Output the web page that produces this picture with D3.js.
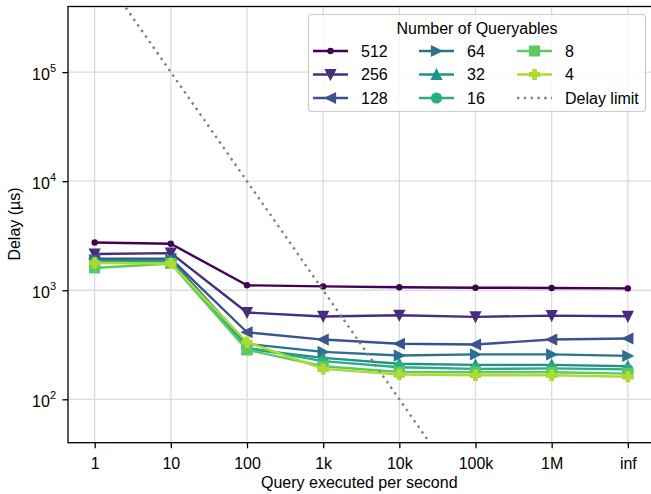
<!DOCTYPE html>
<html>
<head>
<meta charset="utf-8">
<script src="https://cdn.jsdelivr.net/npm/d3@7"></script>
<style>
  body { margin: 0; background: #fff; }
  svg { display: block; font-family: "Liberation Sans", Arial, sans-serif; }
</style>
</head>
<body>
<script>
var rates = ['1', '10', '100', '1k', '10k', '100k', '1M', 'inf'];
var rateValues = [1, 10, 100, 1e3, 1e4, 1e5, 1e6];
var queryables = [512, 256, 128, 64, 32, 16, 8, 4];
var markers = ['.', 'v', '<', '>', '^', 'o', 's', 'P'];

// delay in microseconds, one array per number of queryables
var delay512 = [2740, 2670, 1110, 1085, 1065, 1055, 1050, 1040];
var delay256 = [2150, 2190, 625, 575, 590, 570, 585, 577];
var delay128 = [1950, 1950, 412, 353, 323, 318, 353, 361];
var delay64  = [1900, 1900, 322, 272, 252, 258, 258, 250];
var delay32  = [1850, 1850, 290, 240, 212, 207, 207, 201];
var delay16  = [1800, 1800, 298, 224, 197, 190, 192, 188];
var delay8   = [1600, 1760, 284, 201, 178, 177, 177, 172];
var delay4   = [1780, 1760, 335, 190, 169, 166, 166, 161];
var delays = [delay512, delay256, delay128, delay64, delay32, delay16, delay8, delay4];

var yTicks = [1e2, 1e3, 1e4, 1e5];

(function() {
  var W = 651, H = 494;
  var pLeft = 68, pRight = 654.5, pTop = 6.5, pBottom = 442.7;
  var ms = 9.6; // marker size
  var fontSize = 16;

  var svg = d3.select('body').append('svg')
      .attr('width', W)
      .attr('height', H);

  var x = d3.scalePoint()
      .domain(rates)
      .range([pLeft, pRight])
      .padding(0.35);

  var y = d3.scaleLog()
      .domain([40, 4e5])
      .range([pBottom, pTop]);

  var color = function(i) { return d3.interpolateViridis(i / 8); };

  svg.append('clipPath').attr('id', 'plotclip')
    .append('rect')
      .attr('x', pLeft).attr('y', pTop)
      .attr('width', pRight - pLeft).attr('height', pBottom - pTop);

  // grid
  var grid = svg.append('g');
  grid.selectAll('line.gx')
      .data(rates)
      .enter()
      .append('line')
      .attr('x1', function(d) { return x(d); })
      .attr('x2', function(d) { return x(d); })
      .attr('y1', pTop).attr('y2', pBottom)
      .attr('stroke', '#dcdcdc').attr('stroke-width', 1.3);
  grid.selectAll('line.gy')
      .data(yTicks)
      .enter()
      .append('line')
      .attr('x1', pLeft).attr('x2', pRight)
      .attr('y1', function(d) { return y(d); })
      .attr('y2', function(d) { return y(d); })
      .attr('stroke', '#dcdcdc').attr('stroke-width', 1.3);

  function markerPath(m, s) {
    var h = s / 2, a = s / 6;
    switch (m) {
      case 'v': return 'M0,' + h + 'L' + (-h) + ',' + (-h) + 'L' + h + ',' + (-h) + 'Z';
      case '^': return 'M0,' + (-h) + 'L' + (-h) + ',' + h + 'L' + h + ',' + h + 'Z';
      case '<': return 'M' + (-h) + ',0L' + h + ',' + (-h) + 'L' + h + ',' + h + 'Z';
      case '>': return 'M' + h + ',0L' + (-h) + ',' + (-h) + 'L' + (-h) + ',' + h + 'Z';
      case 's': return 'M' + (-h) + ',' + (-h) + 'H' + h + 'V' + h + 'H' + (-h) + 'Z';
      case 'P': return 'M' + (-h) + ',' + (-a) + 'H' + (-a) + 'V' + (-h) + 'H' + a + 'V' + (-a) +
          'H' + h + 'V' + a + 'H' + a + 'V' + h + 'H' + (-a) + 'V' + a + 'H' + (-h) + 'Z';
      case 'o': return d3.symbol(d3.symbolCircle, Math.PI * h * h)();
      case '.': return d3.symbol(d3.symbolCircle, Math.PI * h * h / 4)();
    }
  }

  var plot = svg.append('g').attr('clip-path', 'url(#plotclip)');

  var line = d3.line()
      .x(function(d, i) { return x(rates[i]); })
      .y(function(d) { return y(d); });

  queryables.forEach(function(q, si) {
    var g = plot.append('g');
    g.append('path')
        .attr('d', line(delays[si]))
        .attr('fill', 'none')
        .attr('stroke', color(si))
        .attr('stroke-width', 2.4)
        .attr('stroke-linejoin', 'round');
    g.selectAll('path.m')
        .data(delays[si])
        .enter()
        .append('path')
        .attr('transform', function(d, i) { return 'translate(' + x(rates[i]) + ',' + y(d) + ')'; })
        .attr('d', markerPath(markers[si], ms))
        .attr('fill', color(si))
        .attr('stroke', color(si))
        .attr('stroke-width', 1.6);
  });

  // delay limit: one query per 1e6/rate microseconds
  var limitLine = d3.line()
      .x(function(d, i) { return x(rates[i]); })
      .y(function(d) { return y(1e6 / d); });
  plot.append('path')
      .attr('d', limitLine(rateValues))
      .attr('fill', 'none')
      .attr('stroke', '#808080')
      .attr('stroke-width', 2.4)
      .attr('stroke-dasharray', '2.4,4.4');

  // axes
  var xAxis = svg.append('g')
      .attr('transform', 'translate(0,' + pBottom + ')')
      .call(d3.axisBottom(x).tickSize(5.6).tickPadding(9.5).tickSizeOuter(0));
  xAxis.select('.domain').remove();
  xAxis.selectAll('text').attr('font-size', fontSize).attr('font-family', null).attr('fill', '#000');
  xAxis.selectAll('line').attr('stroke', '#000').attr('stroke-width', 1.3);

  var yAxis = svg.append('g')
      .attr('transform', 'translate(' + pLeft + ',0)')
      .call(d3.axisLeft(y).tickValues(yTicks).tickSize(5.6).tickFormat(''));
  yAxis.select('.domain').remove();
  yAxis.selectAll('line').attr('stroke', '#000').attr('stroke-width', 1.3);

  var yLabels = svg.append('g');
  yTicks.forEach(function(t) {
    var txt = yLabels.append('text')
        .attr('x', 56)
        .attr('y', y(t) + 7.5)
        .attr('text-anchor', 'end')
        .attr('font-size', fontSize);
    txt.append('tspan').text('10');
    txt.append('tspan')
        .attr('font-size', 11)
        .attr('dy', -8)
        .text(String(Math.round(Math.log10(t))));
  });

  // spines
  svg.append('rect')
      .attr('x', pLeft).attr('y', pTop)
      .attr('width', pRight - pLeft).attr('height', pBottom - pTop)
      .attr('fill', 'none').attr('stroke', '#000').attr('stroke-width', 1.3);

  // axis labels
  svg.append('text')
      .attr('x', (pLeft + pRight) / 2 - 2)
      .attr('y', 488)
      .attr('text-anchor', 'middle')
      .attr('font-size', fontSize)
      .text('Query executed per second');
  svg.append('text')
      .attr('transform', 'translate(20,224) rotate(-90)')
      .attr('text-anchor', 'middle')
      .attr('font-size', fontSize)
      .text('Delay (µs)');

  // legend
  var legend = svg.append('g');
  legend.append('rect')
      .attr('x', 308.5).attr('y', 14.5)
      .attr('width', 337).attr('height', 97)
      .attr('rx', 3).attr('ry', 3)
      .attr('fill', '#fff').attr('fill-opacity', 0.8)
      .attr('stroke', '#cccccc').attr('stroke-width', 1.2);
  legend.append('text')
      .attr('x', 477).attr('y', 34)
      .attr('text-anchor', 'middle')
      .attr('font-size', fontSize)
      .text('Number of Queryables');

  var colX = [313, 419, 517];
  var rowY = [51, 74.5, 98];
  var entries = queryables.map(function(q, i) { return { label: String(q), index: i }; });
  entries.push({ label: 'Delay limit', index: -1 });

  entries.forEach(function(e, k) {
    var cx = colX[Math.floor(k / 3)], cy = rowY[k % 3];
    var item = legend.append('g');
    if (e.index >= 0) {
      item.append('line')
          .attr('x1', cx).attr('x2', cx + 35)
          .attr('y1', cy).attr('y2', cy)
          .attr('stroke', color(e.index)).attr('stroke-width', 2.4);
      item.append('path')
          .attr('transform', 'translate(' + (cx + 17.5) + ',' + cy + ')')
          .attr('d', markerPath(markers[e.index], ms))
          .attr('fill', color(e.index))
          .attr('stroke', color(e.index))
          .attr('stroke-width', 1.6);
    } else {
      item.append('line')
          .attr('x1', cx).attr('x2', cx + 35)
          .attr('y1', cy).attr('y2', cy)
          .attr('stroke', '#808080').attr('stroke-width', 2.4)
          .attr('stroke-dasharray', '2.4,4.4');
    }
    item.append('text')
        .attr('x', cx + 48)
        .attr('y', cy + 5.8)
        .attr('font-size', fontSize)
        .text(e.label);
  });
})();
</script>
</body>
</html>
